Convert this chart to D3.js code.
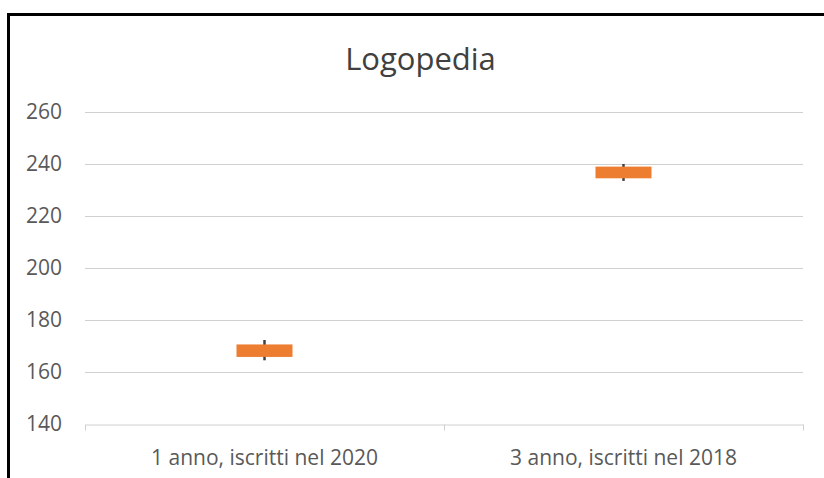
<!DOCTYPE html>
<html>
<head>
<meta charset="utf-8">
<script src="https://cdn.jsdelivr.net/npm/d3@7"></script>
<style>
  body { margin: 0; background: #fff; }
  text { font-family: "Open Sans", "Noto Sans", sans-serif; }
</style>
</head>
<body>
<div id="chart"></div>
<script>
// data
var categories = ["1 anno, iscritti nel 2020", "3 anno, iscritti nel 2018"];
var highs  = [172.3, 240];
var lows   = [164.5, 233.5];
var opens  = [165.8, 234.5];
var closes = [170.6, 239];
var yTicks = [140, 160, 180, 200, 220, 240, 260];

var W = 824, H = 478;
var margin = { top: 112, right: 21, bottom: 54, left: 85 };

var svg = d3.select("#chart").append("svg")
    .attr("width", W)
    .attr("height", H);

// outer frame (only top and left visible)
svg.append("path")
    .attr("d", "M8.5," + H + " V14.5 H" + W)
    .attr("fill", "none")
    .attr("stroke", "#000")
    .attr("stroke-width", 3);

var x = d3.scaleBand()
    .domain(categories)
    .range([margin.left, W - margin.right])
    .paddingInner(0).paddingOuter(0);

var y = d3.scaleLinear()
    .domain([140, 260])
    .range([H - margin.bottom, margin.top]);

// gridlines
svg.append("g").selectAll("line")
  .data(yTicks.filter(function(d) { return d > 140; }))
  .enter().append("line")
    .attr("x1", margin.left).attr("x2", W - margin.right)
    .attr("y1", function(d) { return Math.round(y(d)) + 0.5; })
    .attr("y2", function(d) { return Math.round(y(d)) + 0.5; })
    .attr("stroke", "#d0d0d0")
    .attr("stroke-width", 1);

// y labels
svg.append("g").selectAll("text")
  .data(yTicks)
  .enter().append("text")
    .attr("x", 62)
    .attr("y", function(d) { return y(d); })
    .attr("dy", "0.35em")
    .attr("text-anchor", "end")
    .attr("font-size", 21)
    .attr("fill", "#595959")
    .text(function(d) { return d; });

// x axis
var xAxis = svg.append("g")
    .attr("transform", "translate(0," + (Math.round(y(140)) + 0.5) + ")")
    .call(d3.axisBottom(x).tickSize(0).tickPadding(26));
xAxis.select(".domain").attr("stroke", "#d0d0d0");
xAxis.selectAll("text")
    .attr("font-size", 21)
    .attr("fill", "#595959")
    .style("font-family", "'Open Sans', sans-serif");

// tick marks at category boundaries
var bounds = [margin.left, margin.left + x.bandwidth(), W - margin.right];
xAxis.selectAll(".bound").data(bounds).enter().append("line")
    .attr("class", "bound")
    .attr("x1", function(d) { return Math.round(d) + 0.5; })
    .attr("x2", function(d) { return Math.round(d) + 0.5; })
    .attr("y1", 0).attr("y2", 6)
    .attr("stroke", "#d0d0d0");

// high-low lines
var boxW = x.bandwidth() * 0.156;
svg.append("g").selectAll("line")
  .data(categories)
  .enter().append("line")
    .attr("x1", function(d) { return x(d) + x.bandwidth() / 2; })
    .attr("x2", function(d) { return x(d) + x.bandwidth() / 2; })
    .attr("y1", function(d, i) { return y(highs[i]); })
    .attr("y2", function(d, i) { return y(lows[i]); })
    .attr("stroke", "#404040")
    .attr("stroke-width", 2.5);

// up bars
svg.append("g").selectAll("rect")
  .data(categories)
  .enter().append("rect")
    .attr("x", function(d) { return x(d) + x.bandwidth() / 2 - boxW / 2; })
    .attr("y", function(d, i) { return y(closes[i]); })
    .attr("width", boxW)
    .attr("height", function(d, i) { return y(opens[i]) - y(closes[i]); })
    .attr("fill", "#ed7d31");

// title
svg.append("text")
    .attr("x", 420.5)
    .attr("y", 70)
    .attr("text-anchor", "middle")
    .attr("font-size", 31)
    .attr("fill", "#404040")
    .text("Logopedia");
</script>
</body>
</html>
